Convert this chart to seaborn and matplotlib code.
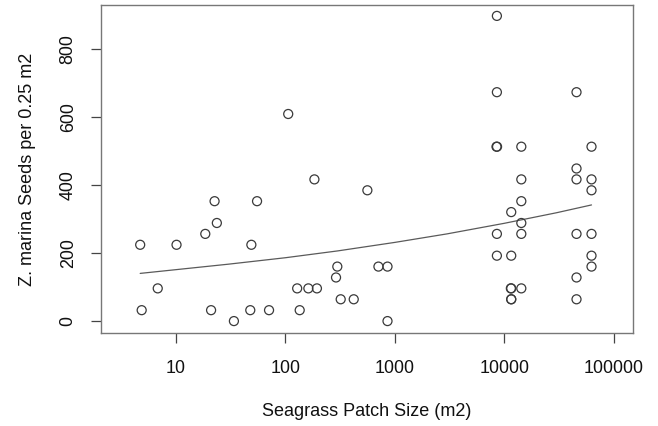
import matplotlib
matplotlib.use("Agg")
import matplotlib.pyplot as plt
import seaborn as sns
import pandas as pd
import numpy as np

# ---- data ----
patch_size = [4.7, 4.85, 6.8, 10.1, 18.5, 20.9, 22.5, 23.6, 33.8, 47.7, 48.8, 55, 70.8,
              106, 128, 135, 162, 184, 194, 290, 298, 320, 421, 561, 708, 857, 857,
              8500, 8570, 8570, 8600, 8570, 8570,
              11500, 11590, 11590, 11590, 11590, 11590,
              14330, 14330, 14330, 14330, 14330, 14330,
              45800, 45800, 45800, 45800, 45800, 45800,
              62800, 62800, 62800, 62800, 62800, 62800]
seeds = [224, 32, 96, 224, 256, 32, 352, 288, 0, 32, 224, 352, 32,
         608, 96, 32, 96, 416, 96, 128, 160, 64, 64, 384, 160, 160, 0,
         512, 896, 672, 512, 256, 192,
         96, 320, 192, 96, 64, 64,
         512, 416, 352, 288, 256, 96,
         672, 448, 416, 256, 128, 64,
         512, 416, 384, 256, 192, 160]

fit_x = [4.7, 10, 30, 100, 300, 1000, 3000, 10000, 30000, 62800]
fit_y = [140, 151, 167, 186, 206, 231, 256, 287, 318, 341]

x_ticks = [10, 100, 1000, 10000, 100000]
x_tick_labels = ["10", "100", "1000", "10000", "100000"]
y_ticks = [0, 200, 400, 600, 800]

df = pd.DataFrame({"size": patch_size, "seeds": seeds})
fit = pd.DataFrame({"size": fit_x, "seeds": fit_y})

sns.set_theme(style="white")
plt.rcParams["font.family"] = ["Liberation Sans", "DejaVu Sans"]

fig = plt.figure(figsize=(6.58, 4.26), dpi=100)
ax = fig.add_axes([101 / 658, 1 - 333 / 426, 532 / 658, 328 / 426])

sns.scatterplot(data=df, x="size", y="seeds", ax=ax, marker="o", s=42,
                facecolor="none", edgecolor="#3a3a3a", linewidth=0.9, zorder=3)
sns.lineplot(data=fit, x="size", y="seeds", ax=ax, color="#5a5a5a",
             linewidth=0.9, zorder=2)

ax.set_xscale("log")
ax.set_xlim(2.06, 150400)
ax.set_ylim(-35, 928)
ax.set_xticks(x_ticks)
ax.set_xticklabels(x_tick_labels)
ax.minorticks_off()
ax.set_yticks(y_ticks)
ax.set_yticklabels([str(v) for v in y_ticks], rotation=90, va="center")

ax.tick_params(axis="both", which="major", direction="out", length=7.5,
               width=0.9, color="#444444", labelsize=12.9, labelcolor="#111111",
               bottom=True, left=True)
ax.tick_params(axis="x", pad=12)
ax.tick_params(axis="y", pad=10)

for sp in ax.spines.values():
    sp.set_visible(True)
    sp.set_color("#777777")
    sp.set_linewidth(1.0)

ax.set_xlabel("Seagrass Patch Size (m2)", fontsize=13, color="#111111", va="center")
ax.set_ylabel("Z. marina Seeds per 0.25 m2", fontsize=13, color="#111111", va="center")
ax.xaxis.set_label_coords(0.5, (333 - 412) / 328)
ax.yaxis.set_label_coords((28 - 101) / 532, 0.5)
ax.grid(False)

fig.savefig("out.png", dpi=100)
